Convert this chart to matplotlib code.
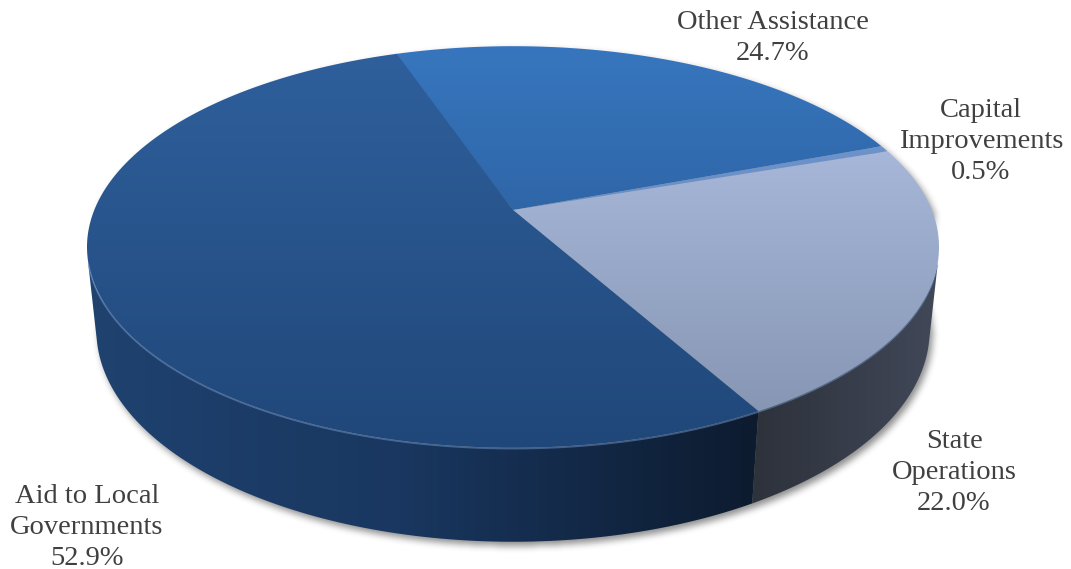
import numpy as np
import matplotlib
matplotlib.use("Agg")
import matplotlib.pyplot as plt
from matplotlib.patches import Polygon
from matplotlib.path import Path

plt.rcParams["font.family"] = "serif"
plt.rcParams["font.serif"] = ["Liberation Serif", "DejaVu Serif"]

# budget shares, drawn clockwise from the back of the pie
labels = ["Other Assistance", "Capital Improvements", "State Operations", "Aid to Local Governments"]
shares = [24.7, 0.5, 22.0, 52.9]
label_lines = [["Other Assistance"], ["Capital", "Improvements"], ["State", "Operations"], ["Aid to Local", "Governments"]]

W, H_PX = 1071, 569

# camera for the tilted disc (pixel space)
CX, CY = 513.0, 210.0
PITCH = np.radians(27.6)
DIST = 4.81
FOCAL = 2014.0
THICK = 0.226
START = 109.4


def project(t_deg, z):
    t = np.radians(t_deg)
    x, y = np.cos(t), np.sin(t)
    d = DIST + y * np.cos(PITCH) - z * np.sin(PITCH)
    u = CX + FOCAL * x / d
    v = CY - FOCAL * (y * np.sin(PITCH) + z * np.cos(PITCH)) / d
    return np.column_stack([np.atleast_1d(u), np.atleast_1d(v)])


def arc(t0, t1, z, n=200):
    return project(np.linspace(t0, t1, n), z)


def gradient(stops, colors, axis):
    # RGB image that varies along one pixel axis
    coord = np.arange(W if axis == "h" else H_PX) + 0.5
    cols = np.array([matplotlib.colors.to_rgb(c) for c in colors])
    ch = [np.interp(coord, stops, cols[:, k]) for k in range(3)]
    line = np.stack(ch, axis=-1)
    if axis == "h":
        return np.broadcast_to(line[None, :, :], (H_PX, W, 3))
    return np.broadcast_to(line[:, None, :], (H_PX, W, 3))


def fill(ax, poly, img, z):
    patch = Polygon(poly, closed=True, facecolor="none", edgecolor="none")
    ax.add_patch(patch)
    im = ax.imshow(img, extent=(0, W, H_PX, 0), origin="upper", zorder=z,
                   interpolation="bilinear")
    im.set_clip_path(patch)


def blur1d(a, r, axis):
    a = np.moveaxis(a, axis, 0)
    p = np.pad(a, ((r + 1, r), (0, 0)))
    c = np.cumsum(p, axis=0)
    out = (c[2 * r + 1:] - c[:-2 * r - 1]) / (2 * r + 1)
    return np.moveaxis(out, 0, axis)


top_cols = {
    "Other Assistance": ([46, 448], ["#3776BE", "#234F88"]),
    "Capital Improvements": ([46, 448], ["#7399D2", "#5A80BA"]),
    "State Operations": ([46, 150, 420], ["#AEBEDE", "#A7B7D9", "#8695B2"]),
    "Aid to Local Governments": ([46, 448], ["#2F609D", "#204779"]),
}
side_cols = {
    "State Operations": ([755, 940], ["#2D323B", "#414858"]),
    "Aid to Local Governments": ([88, 400, 755], ["#1F426F", "#193760", "#0D1B2F"]),
}

fig = plt.figure(figsize=(W / 100, H_PX / 100), dpi=100)
ax = fig.add_axes([0, 0, 1, 1])
ax.set_xlim(0, W)
ax.set_ylim(H_PX, 0)
ax.axis("off")

# slice angles
cum = np.concatenate([[0], np.cumsum(shares)])
edges = START - cum * 3.6

# visible part of the rim
alpha = np.degrees(np.arcsin(1.0 / (DIST * np.cos(PITCH))))
win_lo, win_hi = -180 + alpha, -alpha

# soft shadow from the whole silhouette
outline = np.vstack([arc(0, 180, 0), arc(180, 360, -THICK)])
yy, xx = np.mgrid[0:H_PX, 0:W]
pts = np.column_stack([xx.ravel() + 0.5 - 3, yy.ravel() + 0.5 - 4])
mask = Path(outline).contains_points(pts).reshape(H_PX, W).astype(float)
for _ in range(3):
    mask = blur1d(blur1d(mask, 3, 0), 3, 1)
shadow = np.zeros((H_PX, W, 4))
shadow[..., 3] = 0.45 * mask
ax.imshow(shadow, extent=(0, W, H_PX, 0), origin="upper", zorder=1)

# centre of the disc
apex = np.array([CX, CY])
for i, name in enumerate(labels):
    t_hi, t_lo = edges[i], edges[i + 1]
    # side wall
    for shift in (-360, 0, 360):
        lo = max(t_lo, win_lo + shift)
        hi = min(t_hi, win_hi + shift)
        if hi > lo and name in side_cols:
            poly = np.vstack([arc(lo, hi, 0), arc(hi, lo, -THICK)])
            stops, cols = side_cols[name]
            fill(ax, poly, gradient(stops, cols, "h"), 2)
    # top face
    poly = np.vstack([[apex], arc(t_hi, t_lo, 0)])
    stops, cols = top_cols[name]
    fill(ax, poly, gradient(stops, cols, "v"), 3)

# light rim along the front edge of the top
rim = arc(win_lo + 2, win_hi - 2, 0)
ax.plot(rim[:, 0], rim[:, 1] + 0.8, color="#7FA3D6", lw=1.2, alpha=0.45, zorder=4)

# labels
label_x = [773, 981, 954, 87]
label_y = [29, 117, 448, 503]
for i, lines in enumerate(label_lines):
    text = lines + [f"{shares[i]:.1f}%"]
    for j, s in enumerate(text):
        ax.text(label_x[i], label_y[i] + 31 * j, s, ha="center", va="baseline",
                fontsize=20.5, color="#404040", zorder=5)

fig.savefig("out.png", dpi=100)
